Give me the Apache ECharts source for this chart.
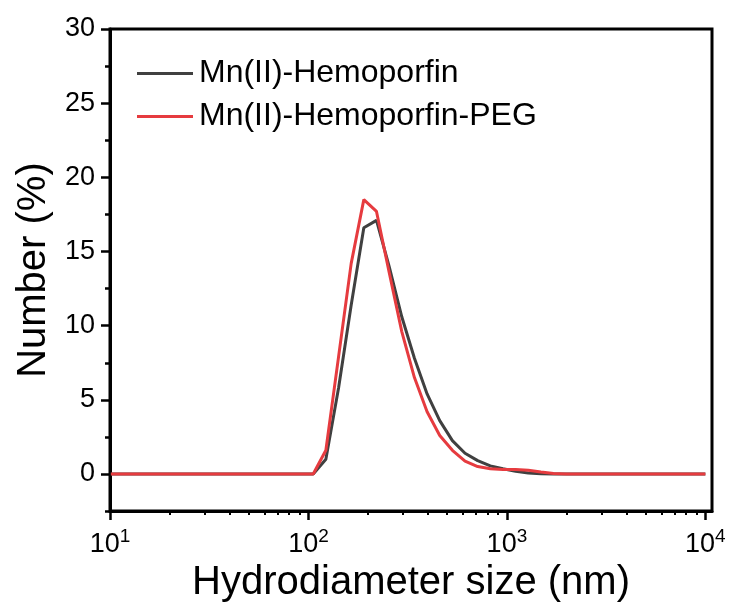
<!DOCTYPE html>
<html>
<head>
<meta charset="utf-8">
<script src="https://cdn.jsdelivr.net/npm/echarts@6/dist/echarts.min.js"></script>
<style>
  html, body { margin: 0; padding: 0; background: #fff; }
  #chart { width: 729px; height: 608px; }
</style>
</head>
<body>
<div id="chart"></div>
<script>
// Size bins (nm), log-spaced
const sizes = [10.10, 11.70, 13.54, 15.69, 18.17, 21.04, 24.36, 28.21, 32.67, 37.84,
  43.82, 50.75, 58.77, 68.06, 78.82, 91.28, 105.7, 122.4, 141.8, 164.2,
  190.1, 220.2, 255.0, 295.3, 342.0, 396.1, 458.7, 531.2, 615.1, 712.4,
  825.0, 955.4, 1106, 1281, 1484, 1718, 1990, 2305, 2669, 3091,
  3580, 4145, 4801, 5560, 6439, 7456, 8635, 10000];

// Number distribution (%)
const hemoporfin = [0, 0, 0, 0, 0, 0, 0, 0, 0, 0,
  0, 0, 0, 0, 0, 0, 0, 1.0, 5.8, 11.4,
  16.6, 17.1, 14.0, 10.6, 7.8, 5.4, 3.6, 2.25, 1.4, 0.9,
  0.55, 0.35, 0.18, 0.07, 0.02, 0, 0, 0, 0, 0,
  0, 0, 0, 0, 0, 0, 0, 0];

const hemoporfinPEG = [0, 0, 0, 0, 0, 0, 0, 0, 0, 0,
  0, 0, 0, 0, 0, 0, 0, 1.6, 7.9, 14.2,
  18.5, 17.7, 13.6, 9.6, 6.5, 4.2, 2.6, 1.6, 0.87, 0.5,
  0.35, 0.3, 0.3, 0.25, 0.13, 0.04, 0, 0, 0, 0,
  0, 0, 0, 0, 0, 0, 0, 0];

const seriesNames = ['Mn(II)-Hemoporfin', 'Mn(II)-Hemoporfin-PEG'];

// Axis ticks
const xMajorTicks = [10, 100, 1000, 10000];
const xMinorTicks = [20, 30, 40, 50, 60, 70, 80, 90,
  200, 300, 400, 500, 600, 700, 800, 900,
  2000, 3000, 4000, 5000, 6000, 7000, 8000, 9000];
const yMajorTicks = [0, 5, 10, 15, 20, 25, 30];
const yMinorTicks = [-2.5, 2.5, 7.5, 12.5, 17.5, 22.5, 27.5];

const FONT = '"Liberation Sans", Arial, sans-serif';

const chart = echarts.init(document.getElementById('chart'), null, { renderer: 'canvas' });

const pairs = (vals) => sizes.map((s, i) => [s, vals[i]]);

chart.setOption({
  animation: false,
  backgroundColor: '#fff',
  grid: {
    left: 110, right: 17, top: 29, bottom: 95,
    show: true, borderColor: '#000', borderWidth: 3, backgroundColor: 'transparent'
  },
  legend: {
    orient: 'vertical',
    left: 132, top: 52,
    itemWidth: 56, itemHeight: 3,
    itemGap: 10,
    icon: 'rect',
    textStyle: { fontFamily: FONT, fontSize: 32, color: '#000', lineHeight: 33, padding: [0, 0, 0, 1] },
    data: seriesNames
  },
  xAxis: [{
    type: 'log', logBase: 10, min: 10, max: 10800,
    name: 'Hydrodiameter size (nm)', nameLocation: 'middle', nameGap: 50,
    nameTextStyle: { fontFamily: FONT, fontSize: 40, color: '#000' },
    axisLine: { show: true, onZero: false, lineStyle: { color: '#000', width: 3 } },
    axisTick: { show: true, length: 9, customValues: xMajorTicks, lineStyle: { color: '#000', width: 2.5 } },
    axisLabel: {
      customValues: xMajorTicks, margin: 16,
      formatter: (v) => '{b|10}{s|' + Math.round(Math.log10(v)) + '}',
      rich: {
        b: { fontFamily: FONT, fontSize: 27, color: '#000', lineHeight: 31, verticalAlign: 'bottom' },
        s: { fontFamily: FONT, fontSize: 19, color: '#000', lineHeight: 19, verticalAlign: 'top' }
      }
    },
    splitLine: { show: false }, minorTick: { show: false }
  }, {
    type: 'log', logBase: 10, min: 10, max: 10800, position: 'bottom',
    axisLine: { show: false, onZero: false },
    axisTick: { show: true, length: 4, customValues: xMinorTicks, lineStyle: { color: '#000', width: 2 } },
    axisLabel: { show: false },
    splitLine: { show: false }
  }],
  yAxis: [{
    type: 'value', min: -2.5, max: 30,
    name: 'Number (%)', nameLocation: 'middle', nameGap: 50,
    nameTextStyle: { fontFamily: FONT, fontSize: 40, color: '#000' },
    axisLine: { show: true, onZero: false, lineStyle: { color: '#000', width: 3 } },
    axisTick: { show: true, length: 9, customValues: yMajorTicks, lineStyle: { color: '#000', width: 2.5 } },
    axisLabel: { customValues: yMajorTicks, margin: 15, fontFamily: FONT, fontSize: 27, color: '#000' },
    splitLine: { show: false }
  }, {
    type: 'value', min: -2.5, max: 30, position: 'left',
    axisLine: { show: false, onZero: false },
    axisTick: { show: true, length: 5, customValues: yMinorTicks, lineStyle: { color: '#000', width: 2.5 } },
    axisLabel: { show: false },
    splitLine: { show: false }
  }],
  series: [{
    name: seriesNames[0], type: 'line', xAxisIndex: 0, yAxisIndex: 0,
    data: pairs(hemoporfin), showSymbol: false, symbol: 'none',
    lineStyle: { color: '#404040', width: 3 }, itemStyle: { color: '#404040' }
  }, {
    name: seriesNames[1], type: 'line', xAxisIndex: 0, yAxisIndex: 0,
    data: pairs(hemoporfinPEG), showSymbol: false, symbol: 'none',
    lineStyle: { color: '#e63b3f', width: 3 }, itemStyle: { color: '#e63b3f' }
  }]
});
</script>
</body>
</html>
